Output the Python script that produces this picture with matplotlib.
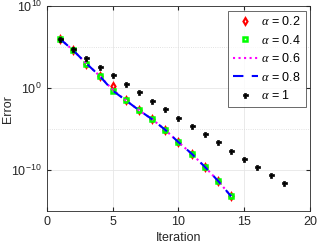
import matplotlib
matplotlib.use("Agg")
import matplotlib.pyplot as plt
import numpy as np

plt.rcParams['font.family'] = ['Liberation Sans', 'DejaVu Sans']
plt.rcParams['mathtext.fontset'] = 'custom'
plt.rcParams['mathtext.it'] = 'Liberation Serif:italic'

# data (log10 of the error)
it_frac = np.arange(1, 15)
log_a02 = [6.0, 4.6, 3.0, 1.5, 0.2, -1.4, -2.7, -3.8, -5.1, -6.6, -8.0, -9.6, -11.3, -13.2]
log_a04 = [6.0, 4.6, 3.0, 1.5, -0.3, -1.5, -2.7, -3.8, -5.1, -6.6, -8.0, -9.6, -11.3, -13.2]
log_a06 = [6.0, 4.6, 3.0, 1.5, -0.2, -1.5, -2.7, -3.8, -5.1, -6.6, -8.0, -9.6, -11.3, -13.2]
log_a08 = [6.0, 4.6, 3.0, 1.5, -0.3, -1.5, -2.7, -3.8, -5.1, -6.6, -8.0, -9.6, -11.3, -13.2]
it_int = np.arange(1, 19)
log_a1 = [6.0, 4.75, 3.7, 2.6, 1.6, 0.5, -0.5, -1.6, -2.5, -3.6, -4.6, -5.6,
          -6.6, -7.7, -8.7, -9.6, -10.6, -11.6]

fig = plt.figure(figsize=(3.17, 2.46), dpi=100)
ax = fig.add_axes([0.148, 0.142, 0.83, 0.833])

ax.semilogy(it_frac, 10.0 ** np.array(log_a02), 'd', color='red', mfc='none',
            mew=1.5, ms=3.5, label=r'$\alpha$ = 0.2')
ax.semilogy(it_frac, 10.0 ** np.array(log_a04), 's', color='#00ff00', mfc='none',
            mew=1.8, ms=3, label=r'$\alpha$ = 0.4')
ax.semilogy(it_frac, 10.0 ** np.array(log_a06), ':', color='magenta', lw=1.5,
            label=r'$\alpha$ = 0.6')
ax.semilogy(it_frac, 10.0 ** np.array(log_a08), '--', color='blue', lw=1.5,
            dashes=(5, 4), label=r'$\alpha$ = 0.8')
ax.semilogy(it_int, 10.0 ** np.array(log_a1), 'P', color='black', ms=3.6, mew=0.5,
            label=r'$\alpha$ = 1')

ax.set_xlim(0, 20)
ax.set_ylim(1e-15, 1e10)
ax.set_xticks([0, 5, 10, 15, 20])
ax.set_yticks([1e-10, 1e0, 1e10])
ax.set_yticks([1e-15, 1e-5, 1e5], minor=True)
ax.yaxis.set_minor_formatter(matplotlib.ticker.NullFormatter())
ax.grid(True, which='major', color='#e6e6e6', lw=0.6)
ax.grid(True, which='minor', color='#d9d9d9', lw=0.6, ls=':')
ax.set_axisbelow(True)
ax.tick_params(which='both', direction='in', length=3, labelsize=9,
               colors='#262626', top=True, right=True)
ax.tick_params(which='minor', length=0)
for sp in ax.spines.values():
    sp.set_color('#262626')
    sp.set_linewidth(0.6)
ax.set_xlabel('Iteration', fontsize=9, color='#262626', labelpad=3)
ax.set_ylabel('Error', fontsize=9, color='#262626')
ax.yaxis.set_label_coords(-0.125, 0.5)

leg = ax.legend(loc='upper right', fontsize=9, frameon=True, fancybox=False,
                edgecolor='#262626', handlelength=2.0, handletextpad=0.3,
                borderpad=0.35, labelspacing=0.45, borderaxespad=0.35)
leg.get_frame().set_linewidth(0.6)

fig.savefig('out.png', dpi=100)
